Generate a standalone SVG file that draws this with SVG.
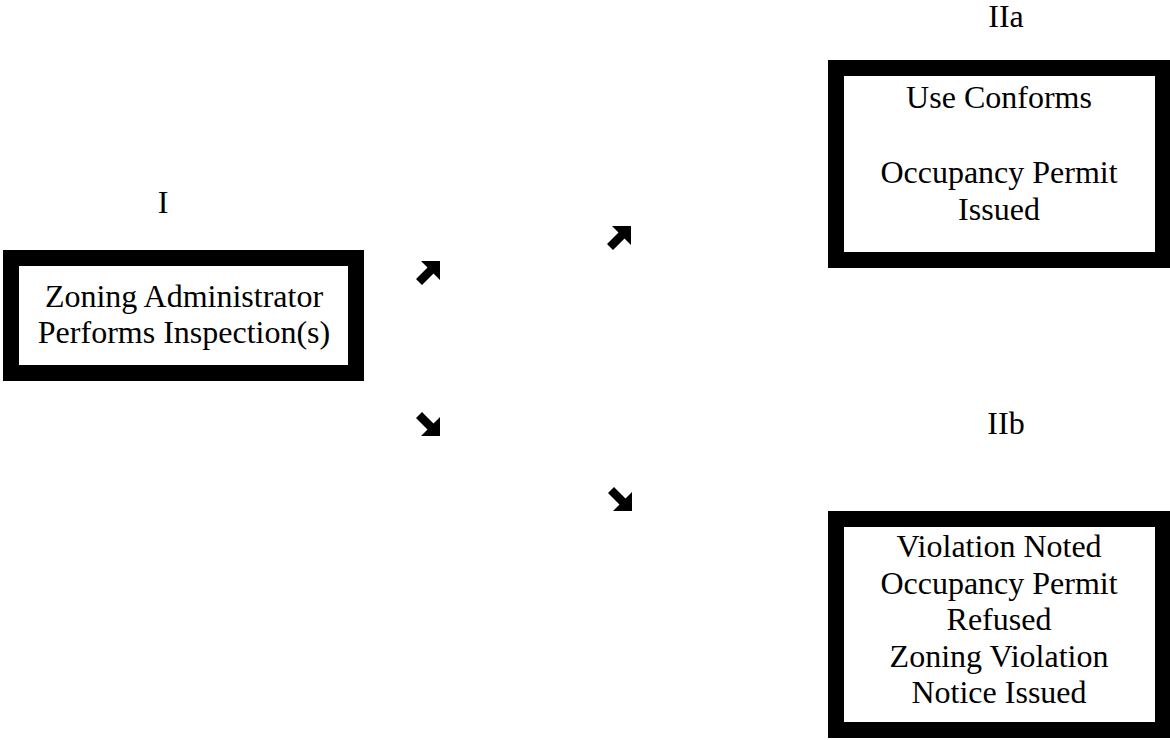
<svg xmlns="http://www.w3.org/2000/svg" width="1170" height="740" viewBox="0 0 1170 740">
<style>
.box{fill:#fff;stroke:#000;stroke-width:16}
text{font-family:"Liberation Serif","Times New Roman",serif;font-size:32px;fill:#000;text-anchor:middle}
</style>
<defs>
<path id="arr" d="M5,0 L24,0 L24,19 L17.5,12.5 L6,24 L0,18 L11.5,6.5 Z" fill="#000"/>
</defs>
<rect width="1170" height="740" fill="#fff"/>
<g id="node-I">
<text x="163" y="213">I</text>
<rect class="box" x="11" y="258" width="345" height="115"/>
<text x="184" y="307">Zoning Administrator</text>
<text x="184" y="343">Performs Inspection(s)</text>
</g>
<g id="node-IIa">
<text x="1006" y="27">IIa</text>
<rect class="box" x="836" y="68" width="327" height="192"/>
<text x="999" y="108">Use Conforms</text>
<text x="999" y="183">Occupancy Permit</text>
<text x="999" y="220">Issued</text>
</g>
<g id="node-IIb">
<text x="1006" y="434">IIb</text>
<rect class="box" x="836" y="519" width="327" height="211"/>
<text x="999" y="557">Violation Noted</text>
<text x="999" y="594">Occupancy Permit</text>
<text x="999" y="630">Refused</text>
<text x="999" y="667">Zoning Violation</text>
<text x="999" y="703">Notice Issued</text>
</g>
<g id="connectors">
<use href="#arr" transform="translate(416,261)"/>
<use href="#arr" transform="translate(607,226)"/>
<use href="#arr" transform="translate(416,436) scale(1,-1)"/>
<use href="#arr" transform="translate(608,511) scale(1,-1)"/>
</g>
</svg>
